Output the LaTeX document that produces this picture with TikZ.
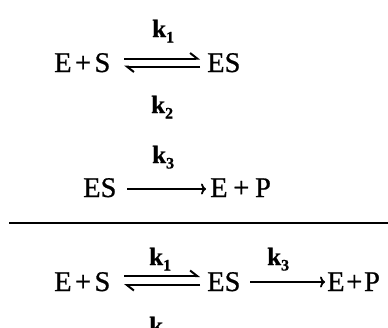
\documentclass[tikz,border=0pt]{standalone}
\usepackage{fontspec}
\setmainfont{Liberation Serif}[RawFeature={embolden=0.8}]
\usetikzlibrary{arrows.meta}
\newcommand{\kk}[1]{k\raisebox{-0.22em}{\fontsize{16}{18}\selectfont #1}}
\begin{document}
\begin{tikzpicture}[x=1pt,y=-1pt,
  sp/.style={font=\fontsize{28.5}{32}\selectfont, inner sep=0pt, anchor=base west},
  kl/.style={font=\fontsize{25}{28}\selectfont\bfseries, inner sep=0pt, anchor=base west},
  arr/.style={line width=1.8pt, -{To[length=5pt,width=11pt]}},
  harp/.style={line width=2pt, -{Straight Barb[left,length=7pt,width=11pt]}}]
\useasboundingbox (0,0) rectangle (388,327);
% row 1
\node[sp] (a1) at (54,72) {E\hspace{0.12em}+\hspace{0.12em}S};
\node[sp] (b1) at (207,72) {ES};
\node[kl] (k1a) at (152,37) {\kk{1}};
\node[kl] (k2a) at (151,113) {\kk{2}};
\coordinate (h1s) at (124,58.5); \coordinate (h1e) at (200,58.5);
\coordinate (h2s) at (200,66.5); \coordinate (h2e) at (124,66.5);
\draw[harp] (h1s) -- (h1e);
\draw[harp] (h2s) -- (h2e);
% row 2
\node[kl] (k3b) at (152,163) {\kk{3}};
\node[sp] (a2) at (83,197) {ES};
\node[sp] (b2) at (210,197) {E\hspace{0.2em}+\hspace{0.2em}P};
\coordinate (r2s) at (127,189); \coordinate (r2e) at (206,189);
\draw[arr] (r2s) -- (r2e);
% rule
\coordinate (l1) at (9,223); \coordinate (l2) at (388,223);
\draw[line width=1.8pt] (l1) -- (l2);
% row 3
\node[sp] (a3) at (54,291) {E\hspace{0.12em}+\hspace{0.12em}S};
\node[sp] (b3) at (207,291) {ES};
\node[sp] (c3) at (327,291) {E\hspace{0.06em}+\hspace{0.06em}P};
\node[kl] (k1c) at (149,265) {\kk{1}};
\node[kl] (k3c) at (267,265) {\kk{3}};
\node[kl] (k2c) at (149,334) {\kk{2}};
\coordinate (h3s) at (124,276); \coordinate (h3e) at (200,276);
\coordinate (h4s) at (200,285); \coordinate (h4e) at (124,285);
\draw[harp] (h3s) -- (h3e);
\draw[harp] (h4s) -- (h4e);
\coordinate (r3s) at (250,282); \coordinate (r3e) at (325,282);
\draw[arr] (r3s) -- (r3e);
\end{tikzpicture}
\end{document}
